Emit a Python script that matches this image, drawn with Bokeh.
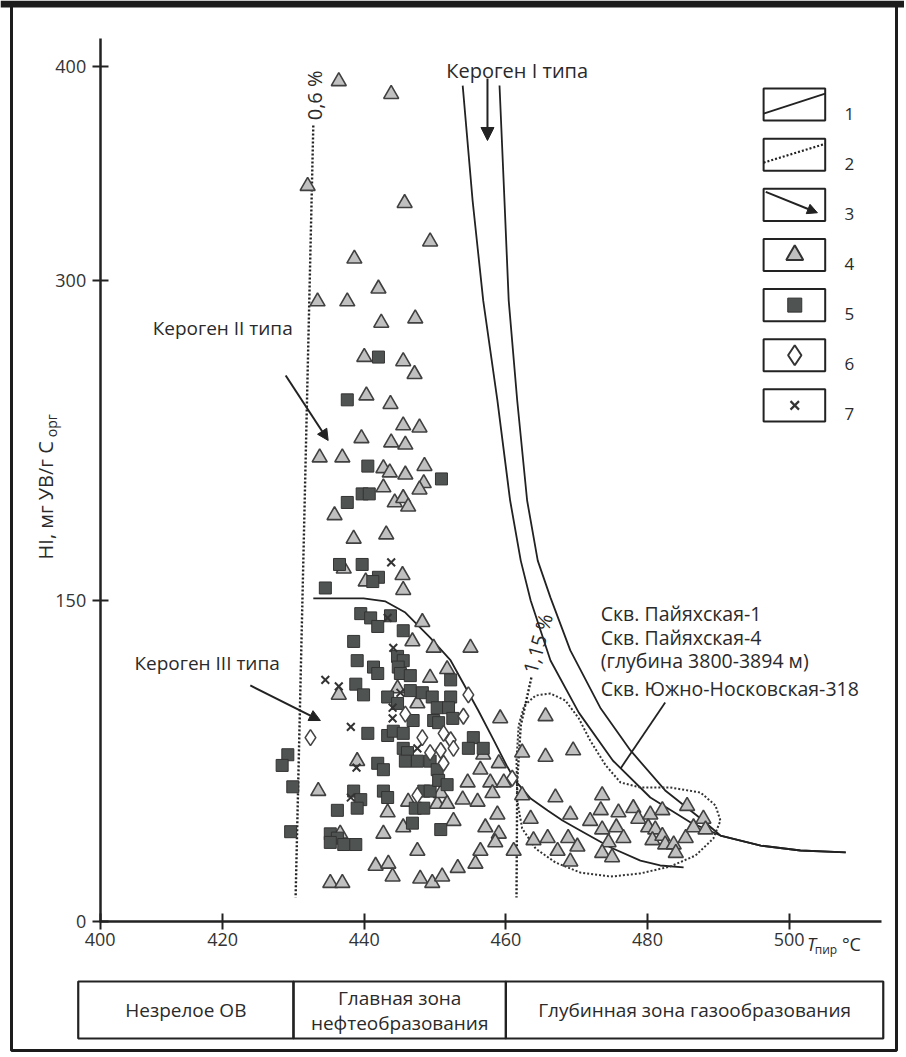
import math
from bokeh.plotting import figure
from bokeh.models import Range1d, FixedTicker, Label, Arrow, NormalHead
from bokeh.embed import file_html
from bokeh.resources import INLINE

FONT = "Open Sans"
INK = "#222222"
TXT = "#2a2a2a"

# ---------------- data (Tmax, °C ; HI, mg HC/g TOC) ----------------
tri_T = [436.4, 443.8, 432.0, 445.7, 449.3, 438.6, 442.0, 433.4, 437.6, 442.4, 447.2,
         440.0, 445.5, 447.1, 440.3, 443.7, 445.5, 447.8, 439.6, 443.8, 445.8, 433.7,
         436.9, 442.7, 443.6, 445.8, 448.5, 448.4, 447.8, 442.7, 444.3, 445.5, 446.2,
         435.8, 438.5, 443.1, 437.1, 445.4, 440.2, 445.5, 448.2,
         446.8, 449.8, 455.0, 449.3, 451.7, 436.4, 444.7, 447.5, 439.0, 433.5, 443.3,
         446.2, 450.3, 450.8, 436.6, 442.7, 445.5, 447.5, 441.6, 443.4, 444.0, 447.9,
         449.6, 451.0, 453.2, 435.2, 436.9,
         459.2, 459.0, 456.4, 454.6, 457.8, 459.7, 458.1, 453.9, 456.0, 458.8, 452.6,
         457.1, 459.0, 458.5, 456.4, 455.7, 461.1, 462.3, 451.7, 456.8, 462.3, 463.5, 463.9,
         465.6, 465.6, 469.5, 467.0, 473.6, 469.1, 465.9, 468.8, 470.1, 467.3, 469.1,
         471.9, 473.6, 475.9, 475.6, 474.5, 473.6, 475.0, 476.6, 478.0, 478.7, 480.4,
         482.1, 480.1, 481.1, 480.7, 482.1, 482.5, 483.7, 484.0, 485.6, 485.4, 486.5,
         487.9, 488.2, 473.4]
tri_HI = [393, 387, 344, 336, 318, 310, 296, 290, 290, 280, 282,
          264, 262, 256, 246, 242, 232, 231, 226, 224, 223, 217,
          217, 212, 210, 209, 213, 205, 202, 203, 196, 198, 194,
          190, 179, 181, 165, 162, 159, 155, 140,
          131, 128, 128, 114, 118, 106, 109, 102, 75, 61, 51,
          56, 55, 60, 41, 41, 44, 33, 26, 27, 21, 20,
          18, 21, 25, 18, 18,
          95, 74, 71, 65, 65, 65, 60, 57, 56, 50, 47,
          44, 41, 37, 33, 27, 33, 79, 55, 78, 59, 48, 38,
          96, 77, 80, 58, 59, 50, 39, 39, 35, 33, 28,
          47, 43, 51, 44, 37, 32, 30, 39, 53, 48, 50,
          52, 44, 43, 38, 40, 36, 36, 32, 54, 39, 44,
          48, 43, 52]

sq_T = [442.0, 437.6, 440.5, 450.9, 439.7, 440.7, 437.6, 436.5, 439.7, 442.0, 441.2,
        434.5, 439.5, 440.9, 441.9, 443.7, 445.5, 438.5, 444.7, 445.5, 439.0, 441.3,
        441.9, 444.8, 445.1, 446.5, 452.2, 438.8, 439.9, 443.3, 446.5, 448.2, 449.6,
        452.2, 444.7, 450.3, 451.9, 446.9, 449.8, 450.5, 452.5, 440.5, 443.3, 444.1,
        445.5, 455.4, 456.8, 454.7, 445.5, 446.1, 429.2, 428.4, 441.9, 442.7, 445.8,
        447.5, 449.3, 450.3, 429.9, 438.5, 439.5, 439.0, 442.7, 443.3, 448.4, 449.3,
        450.5, 451.7, 436.2, 447.2, 448.4, 429.6, 435.2, 436.2, 435.2, 437.1, 438.8,
        446.8, 450.8]
sq_HI = [264, 244, 213, 207, 200, 200, 196, 167, 167, 161, 159,
         156, 144, 142, 138, 143, 136, 131, 124, 122, 122, 119,
         116, 119, 116, 115, 113, 111, 106, 105, 108, 107, 105,
         105, 102, 100, 100, 94, 94, 93, 95, 88, 87, 89,
         88, 86, 81, 81, 81, 79, 78, 73, 74, 71, 75,
         75, 75, 71, 63, 61, 57, 53, 61, 58, 61, 61,
         66, 64, 52, 53, 53, 42, 41, 39, 37, 36, 36,
         46, 43]

dia_T = [454.7, 454.0, 445.8, 448.2, 451.2, 452.2, 432.4, 449.3, 450.8, 452.6, 451.2, 460.9, 447.5]
dia_HI = [106, 96, 97, 86, 88, 85, 86, 79, 80, 81, 74, 67, 59]

x_T = [443.8, 443.3, 444.1, 434.5, 436.4, 445.1, 444.0, 444.0, 438.1, 447.5, 438.9, 438.1]
x_HI = [168, 142, 128, 113, 110, 107, 100, 95, 91, 81, 72, 58]

# kerogen type I boundaries (two lines)
k1a_T = [453.9, 455.3, 456.8, 458.8, 460.6, 462.1, 463.5, 466.3, 470.3, 475.1, 480.4,
         486.1, 490.3, 496.0, 501.6, 508.0]
k1a_HI = [391.0, 337.2, 290.4, 243.7, 196.9, 168.8, 150.1, 122.1, 97.7, 75.3, 58.0,
          46.3, 40.2, 35.5, 33.2, 32.3]
k1b_T = [459.1, 459.8, 460.4, 461.6, 463.0, 464.5, 466.3, 469.1, 473.4, 477.6, 482.5,
         487.5, 490.3, 496.0, 501.6, 508.0]
k1b_HI = [391.0, 337.2, 290.4, 243.7, 196.9, 168.8, 151.5, 126.8, 99.6, 80.0, 61.3,
          48.2, 40.2, 35.5, 33.2, 32.3]
# kerogen II / III boundary
k23_T = [432.8, 439.9, 443.0, 445.8, 449.3, 452.2, 454.0, 456.1, 458.3, 460.1, 461.3,
         463.5, 465.9, 468.0, 470.5, 474.8, 479.0, 481.8, 485.1]
k23_HI = [151.1, 151.1, 149.7, 144.5, 132.8, 122.1, 111.3, 98.7, 84.7, 73.0, 66.0,
          57.5, 51.9, 47.2, 42.6, 34.6, 28.5, 26.2, 25.3]
# vitrinite reflectance isolines
ro06_T = [432.8, 430.3]
ro06_HI = [372.3, 11.2]
ro115_T = [463.6, 462.1, 461.6, 461.5]
ro115_HI = [114.1, 91.7, 65.9, 11.2]
# outline of the Payakhskaya / Yuzhno-Noskovskaya samples
cont_T = [461.5, 461.8, 462.6, 464.2, 466.3, 468.4, 470.3, 471.9, 474.1, 476.2, 479.0,
          483.2, 487.5, 489.6, 490.3, 489.3, 486.8, 483.2, 479.0, 474.8, 470.5, 467.0,
          464.2, 462.3, 461.6, 461.5]
cont_HI = [75.3, 91.7, 101.0, 105.7, 106.6, 103.4, 95.0, 84.7, 73.0, 65.0, 62.7,
           62.7, 60.3, 54.3, 47.2, 38.8, 30.9, 25.7, 22.5, 21.0, 22.9, 27.6,
           34.1, 43.5, 56.6, 75.3]

x_ticks = [420, 440, 460, 480, 500]
y_ticks = [0, 150, 300, 400]
zone_edges = [399.6, 430, 460, 513.3]
zone_names = [["Незрелое ОВ"], ["Главная зона", "нефтеобразования"], ["Глубинная зона газообразования"]]
legend_nums = ["1", "2", "3", "4", "5", "6", "7"]

# ---------------- figure ----------------
# the whole canvas is the frame; axes are pinned at Tmax=402.7 and HI=0
X0, XE = 402.7, 513.05       # axis extent (Tmax)
YE = 413.0                   # axis extent (HI)
p = figure(width=904, height=1054,
           x_range=Range1d(388.62, 516.30), y_range=Range1d(-62.21, 430.78),
           output_backend="svg", toolbar_location=None,
           min_border=0, min_border_left=0, min_border_right=0,
           min_border_top=0, min_border_bottom=0)
p.grid.visible = False
p.outline_line_color = None
p.background_fill_color = "white"
p.border_fill_color = "white"

xa = p.xaxis[0]
ya = p.yaxis[0]
xa.fixed_location = 0
ya.fixed_location = X0
xa.bounds = (X0 - 0.1, XE)
ya.bounds = (0, YE)
xa.ticker = FixedTicker(ticks=[X0] + x_ticks)
xa.major_label_overrides = {X0: "400"}
ya.ticker = FixedTicker(ticks=y_ticks)
for ax in (xa, ya):
    ax.axis_line_width = 2.5
    ax.axis_line_color = INK
    ax.major_tick_line_width = 2
    ax.major_tick_line_color = INK
    ax.major_tick_in = 8
    ax.major_tick_out = 8
    ax.minor_tick_line_color = None
    ax.major_label_text_font = FONT
    ax.major_label_text_font_size = "18px"
    ax.major_label_text_color = "#333333"
xa.major_label_standoff = 4
ya.major_label_standoff = 6

def lbl(x, y, text, size="19px", angle=0.0, align="center", baseline="middle", style="normal"):
    p.add_layout(Label(x=x, y=y, text=text, text_font=FONT, text_font_size=size,
                       text_color=TXT, angle=angle, text_align=align,
                       text_baseline=baseline, text_font_style=style))

# outer frame of the picture and zone table
p.quad(left=[390.17], right=[515.17], top=[429.6], bottom=[-60.34],
       fill_color=None, line_color="#1c1c1c", line_width=3)
p.quad(left=[388.62], right=[516.30], top=[430.78], bottom=[427.5],
       fill_color="#1c1c1c", line_color=None)
p.quad(left=zone_edges[:-1], right=zone_edges[1:], top=[-28.07] * 3, bottom=[-54.73] * 3,
       fill_color=None, line_color=INK, line_width=2.2)
for i, names in enumerate(zone_names):
    xc = (zone_edges[i] + zone_edges[i + 1]) / 2
    ys = [-41.6] if len(names) == 1 else [-36.0, -47.7]
    for yy, nm in zip(ys, names):
        lbl(xc, yy, nm, size="19px")

# curves
p.line(k1a_T, k1a_HI, line_color=INK, line_width=1.8)
p.line(k1b_T, k1b_HI, line_color=INK, line_width=1.8)
p.line(k23_T, k23_HI, line_color=INK, line_width=1.8)
p.line(ro06_T, ro06_HI, line_color=INK, line_width=2.4, line_dash="2 2")
p.line(ro115_T, ro115_HI, line_color=INK, line_width=2.4, line_dash="2 2")
p.line(cont_T, cont_HI, line_color="#333333", line_width=2.0, line_dash="2 2")

# points
p.scatter(tri_T, tri_HI, marker="triangle", size=15, fill_color="#c0c0c0",
          line_color="#404040", line_width=1.6)
p.scatter(sq_T, sq_HI, marker="square", size=12, fill_color="#4f5351",
          line_color="#333333", line_width=1)
p.scatter(dia_T, dia_HI, marker="diamond", size=16, fill_color="white",
          line_color="#444444", line_width=1.6)
p.scatter(x_T, x_HI, marker="x", size=11, line_color="#333333", line_width=2)

# arrows
def arrow(x0, y0, x1, y1, size=11):
    p.add_layout(Arrow(end=NormalHead(size=size, fill_color=INK, line_color=INK, line_width=1),
                       x_start=x0, y_start=y0, x_end=x1, y_end=y1,
                       line_color=INK, line_width=2))

arrow(457.4, 394.3, 457.4, 365.3, 13)
arrow(428.9, 255.4, 434.9, 225.0)
arrow(423.9, 110.4, 433.8, 94.0)
p.segment(x0=[482.5], y0=[102.4], x1=[476.2], y1=[71.6], line_color=INK, line_width=1.8)

# text annotations
lbl(461.6, 398.0, "Кероген I типа", size="20px")
lbl(420.0, 277.4, "Кероген II типа")
lbl(417.8, 120.7, "Кероген III типа")
lbl(433.0, 386.4, "0,6 %", size="20px", angle=math.pi / 2)
lbl(464.5, 130.0, "1,15 %", size="20px", angle=1.30)
for yy, tt in zip([144.1, 132.8, 122.1, 109.0],
                  ["Скв. Пайяхская-1", "Скв. Пайяхская-4", "(глубина 3800-3894 м)",
                   "Скв. Южно-Носковская-318"]):
    lbl(473.4, yy, tt, size="19.5px", align="left")

# axis titles
lbl(394.97, 197.0, "HI, мг УВ/г C", size="20px", angle=math.pi / 2)
lbl(395.8, 226.5, "орг", size="14px", angle=math.pi / 2, align="left")
lbl(503.16, -10.3, "T", size="18px", style="italic")
lbl(505.2, -13.1, "пир", size="12px")
lbl(508.8, -10.3, "°C", size="18px")

# legend
LX0, LX1 = 496.4, 505.1
LXC = 500.8
top, step, bh = 382.1, 23.45, 15.0
rows = [top - i * step for i in range(7)]
p.rect(x=[(LX0 + LX1) / 2] * 7, y=rows, width=LX1 - LX0, height=bh,
       fill_color="white", line_color=INK, line_width=2)
p.line([LX0, LX1], [rows[0] - 4.2, rows[0] + 5.1], line_color=INK, line_width=1.8)
p.line([LX0, LX1], [rows[1] - 3.7, rows[1] + 5.1], line_color=INK, line_width=2.2, line_dash="2 2")
arrow(496.7, rows[2] + 6.1, 504.0, rows[2] - 3.7, 10)
p.scatter([LXC], [rows[3]], marker="triangle", size=17, fill_color="#c0c0c0",
          line_color="#333333", line_width=2)
p.scatter([LXC], [rows[4]], marker="square", size=14, fill_color="#4f5351",
          line_color="#333333", line_width=1)
p.scatter([LXC], [rows[5]], marker="diamond", size=20, fill_color="white",
          line_color="#333333", line_width=2)
p.scatter([LXC], [rows[6]], marker="x", size=12, line_color="#333333", line_width=2.2)
for yy, nn in zip(rows, legend_nums):
    lbl(508.5, yy - 4.2, nn, size="17px")

open("out.html", "w").write(file_html(p, INLINE))
